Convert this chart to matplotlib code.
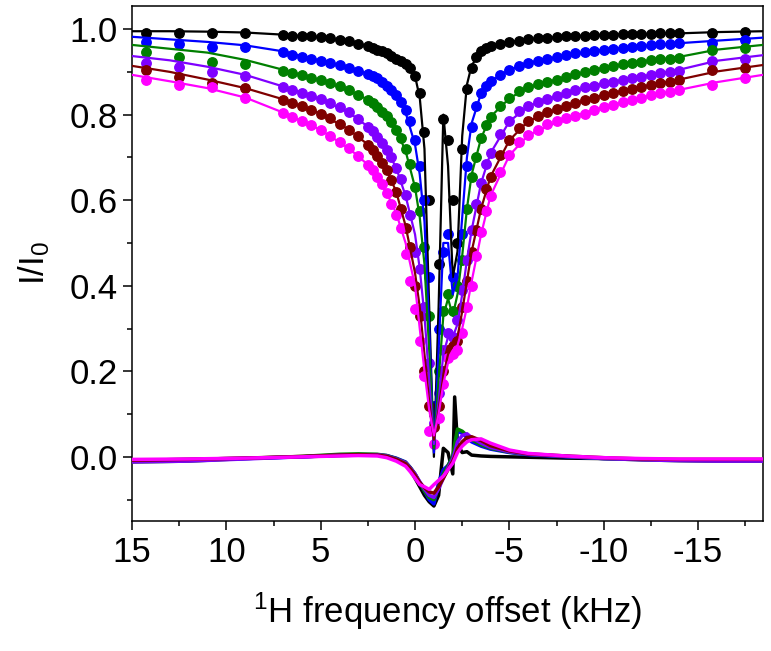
import matplotlib
matplotlib.use("Agg")
import matplotlib.pyplot as plt
from matplotlib.ticker import MultipleLocator

plt.rcParams['font.family'] = ['Liberation Sans', 'DejaVu Sans']
plt.rcParams['mathtext.default'] = 'regular'

# frequency offsets (kHz) of the measured points
x_data = [14.25, 12.5, 10.75, 9.0,
          7.0, 6.5, 6.0, 5.5, 5.0, 4.5, 4.0, 3.5, 3.0, 2.5,
          2.25, 2.0, 1.75, 1.5, 1.25, 1.0, 0.75, 0.5, 0.25, 0.0,
          -0.25, -0.5, -0.75, -1.0, -1.25, -1.5, -1.75, -2.0, -2.25, -2.5,
          -2.75, -3.0, -3.25, -3.5, -3.75,
          -4.0, -4.5, -5.0, -5.5, -6.0, -6.5, -7.0, -7.5, -8.0, -8.5, -9.0,
          -9.5, -10.0, -10.5, -11.0, -11.5, -12.0, -12.5, -13.0, -13.5, -14.0,
          -15.75, -17.5]

# measured I/I0 for each series
y_black = [0.992, 0.992, 0.991, 0.990,
           0.986, 0.985, 0.984, 0.983, 0.981, 0.978, 0.975, 0.971, 0.966, 0.960,
           0.956, 0.952, 0.948, 0.943, 0.937, 0.930, 0.925, 0.918, 0.910, 0.890,
           0.850, 0.760, 0.600, 0.100, 0.450, 0.790, 0.740, 0.600, 0.500, 0.720,
           0.860, 0.910, 0.935, 0.948, 0.955,
           0.960, 0.965, 0.970, 0.973, 0.976, 0.978, 0.980, 0.982, 0.983, 0.984, 0.985,
           0.986, 0.987, 0.987, 0.988, 0.988, 0.989, 0.989, 0.990, 0.990, 0.990,
           0.992, 0.993]
y_blue = [0.970, 0.965, 0.959, 0.958,
          0.946, 0.940, 0.935, 0.930, 0.926, 0.921, 0.916, 0.910, 0.903, 0.895,
          0.890, 0.885, 0.877, 0.868, 0.857, 0.845, 0.830, 0.810, 0.785, 0.740,
          0.680, 0.600, 0.420, 0.120, 0.300, 0.480, 0.520, 0.420, 0.400, 0.520,
          0.680, 0.770, 0.820, 0.850, 0.868,
          0.878, 0.892, 0.905, 0.914, 0.921, 0.926, 0.931, 0.935, 0.939, 0.943, 0.946,
          0.949, 0.952, 0.954, 0.956, 0.958, 0.960, 0.962, 0.964, 0.966, 0.967,
          0.968, 0.974]
y_green = [0.947, 0.935, 0.924, 0.918,
           0.902, 0.897, 0.892, 0.886, 0.880, 0.874, 0.866, 0.857, 0.847, 0.835,
           0.828, 0.818, 0.807, 0.796, 0.782, 0.765, 0.745, 0.720, 0.685, 0.630,
           0.575, 0.490, 0.330, 0.100, 0.200, 0.340, 0.380, 0.340, 0.400, 0.460,
           0.580, 0.655, 0.700, 0.745, 0.775,
           0.795, 0.820, 0.838, 0.855, 0.864, 0.871, 0.877, 0.882, 0.888, 0.894, 0.900,
           0.905, 0.910, 0.914, 0.918, 0.921, 0.924, 0.927, 0.929, 0.931, 0.933,
           0.950, 0.955]
y_purple = [0.920, 0.912, 0.900, 0.890,
            0.864, 0.858, 0.851, 0.844, 0.836, 0.827, 0.817, 0.805, 0.790, 0.772,
            0.761, 0.748, 0.733, 0.718, 0.700, 0.676, 0.650, 0.612, 0.566, 0.480,
            0.440, 0.350, 0.220, 0.080, 0.150, 0.250, 0.290, 0.280, 0.320, 0.390,
            0.460, 0.530, 0.590, 0.640, 0.685,
            0.710, 0.755, 0.784, 0.808, 0.820, 0.829, 0.837, 0.844, 0.851, 0.857, 0.865,
            0.868, 0.873, 0.877, 0.881, 0.885, 0.889, 0.893, 0.897, 0.900, 0.903,
            0.925, 0.929]
y_maroon = [0.904, 0.889, 0.873, 0.862,
            0.835, 0.828, 0.820, 0.811, 0.802, 0.791, 0.779, 0.765, 0.750, 0.730,
            0.717, 0.703, 0.688, 0.671, 0.648, 0.618, 0.580, 0.535, 0.490, 0.400,
            0.330, 0.200, 0.120, 0.070, 0.120, 0.200, 0.250, 0.260, 0.270, 0.350,
            0.410, 0.480, 0.530, 0.580, 0.625,
            0.655, 0.705, 0.740, 0.768, 0.785, 0.797, 0.806, 0.814, 0.820, 0.827, 0.834,
            0.840, 0.846, 0.851, 0.856, 0.861, 0.865, 0.869, 0.873, 0.877, 0.881,
            0.904, 0.910]
y_magenta = [0.881, 0.869, 0.864, 0.838,
             0.803, 0.794, 0.785, 0.775, 0.764, 0.751, 0.737, 0.721, 0.704, 0.683,
             0.670, 0.655, 0.637, 0.617, 0.592, 0.565, 0.535, 0.475, 0.410, 0.345,
             0.270, 0.190, 0.060, 0.030, 0.090, 0.170, 0.230, 0.240, 0.250, 0.290,
             0.350, 0.400, 0.470, 0.525, 0.575,
             0.610, 0.665, 0.705, 0.735, 0.752, 0.765, 0.777, 0.786, 0.792, 0.797, 0.802,
             0.810, 0.817, 0.823, 0.829, 0.834, 0.840, 0.845, 0.850, 0.854, 0.858,
             0.870, 0.885]

# fitted curves
x_fit = [15.0, 13.0, 11.0, 9.0, 7.0, 5.0, 3.5, 2.5, 1.5, 1.0, 0.5, 0.0,
         -0.25, -0.5, -0.75, -1.0, -1.25, -1.5, -1.75, -2.0, -2.25, -2.5,
         -2.75, -3.0, -3.5, -4.0, -5.0, -6.0, -8.0, -10.0, -12.0, -14.0,
         -16.0, -18.44]
fit_black = [0.995, 0.995, 0.994, 0.992, 0.987, 0.981, 0.971, 0.960, 0.943, 0.930, 0.915, 0.890,
             0.840, 0.720, 0.350, 0.000, 0.350, 0.800, 0.680, 0.420, 0.480, 0.750,
             0.870, 0.915, 0.948, 0.960, 0.970, 0.976, 0.983, 0.987, 0.989, 0.990,
             0.993, 0.995]
fit_blue = [0.982, 0.976, 0.970, 0.962, 0.948, 0.926, 0.910, 0.895, 0.868, 0.845, 0.805, 0.730,
            0.660, 0.550, 0.300, 0.010, 0.250, 0.500, 0.500, 0.380, 0.420, 0.560,
            0.700, 0.780, 0.850, 0.878, 0.905, 0.921, 0.939, 0.952, 0.960, 0.967,
            0.973, 0.980]
fit_green = [0.963, 0.954, 0.945, 0.928, 0.905, 0.880, 0.857, 0.835, 0.796, 0.765, 0.715, 0.630,
             0.560, 0.450, 0.250, 0.020, 0.180, 0.330, 0.370, 0.330, 0.380, 0.470,
             0.580, 0.660, 0.745, 0.795, 0.838, 0.864, 0.888, 0.910, 0.924, 0.935,
             0.952, 0.963]
fit_purple = [0.937, 0.927, 0.912, 0.893, 0.866, 0.836, 0.805, 0.772, 0.718, 0.676, 0.610, 0.520,
              0.440, 0.330, 0.180, 0.030, 0.130, 0.240, 0.280, 0.280, 0.310, 0.380,
              0.460, 0.530, 0.640, 0.710, 0.784, 0.820, 0.851, 0.873, 0.889, 0.905,
              0.926, 0.939]
fit_maroon = [0.914, 0.900, 0.882, 0.862, 0.836, 0.802, 0.765, 0.730, 0.671, 0.620, 0.540, 0.430,
              0.350, 0.240, 0.130, 0.040, 0.110, 0.190, 0.240, 0.260, 0.280, 0.340,
              0.410, 0.480, 0.580, 0.655, 0.740, 0.785, 0.820, 0.846, 0.865, 0.882,
              0.901, 0.916]
fit_magenta = [0.893, 0.878, 0.862, 0.840, 0.805, 0.764, 0.721, 0.683, 0.617, 0.570, 0.500, 0.400,
               0.300, 0.200, 0.110, 0.050, 0.100, 0.170, 0.220, 0.240, 0.260, 0.300,
               0.350, 0.410, 0.520, 0.610, 0.705, 0.752, 0.792, 0.817, 0.840, 0.858,
               0.876, 0.893]

# residuals (data - fit)
x_res = [15.0, 12.0, 9.0, 6.0, 4.0, 3.0, 2.0, 1.5, 1.0, 0.5, 0.25, 0.0,
         -0.25, -0.5, -0.75, -1.0, -1.25, -1.5, -1.75, -2.0, -2.1, -2.25,
         -2.5, -2.75, -3.0, -3.5, -4.0, -5.0, -6.0, -8.0, -10.0, -12.0,
         -14.0, -16.0, -18.44]
res_black = [-0.008, -0.006, -0.003, 0.0, 0.003, 0.004, 0.004, 0.002, -0.005, -0.015, -0.03, -0.05,
             -0.07, -0.09, -0.105, -0.115, -0.09, 0.02, 0.01, -0.04, 0.14, 0.03,
             0.01, 0.012, 0.004, 0.002, 0.001, 0.0, -0.001, -0.003, -0.004, -0.006,
             -0.007, -0.007, -0.008]
res_blue = [-0.01, -0.008, -0.004, 0.0, 0.004, 0.005, 0.005, 0.003, -0.003, -0.012, -0.025, -0.04,
            -0.06, -0.08, -0.10, -0.11, -0.06, -0.03, -0.02, 0.0, 0.02, 0.06,
            0.055, 0.045, 0.035, 0.025, 0.018, 0.01, 0.005, 0.0, -0.004, -0.006,
            -0.008, -0.009, -0.01]
res_green = [-0.012, -0.01, -0.004, 0.001, 0.006, 0.007, 0.006, 0.003, -0.004, -0.013, -0.025, -0.04,
             -0.06, -0.08, -0.095, -0.10, -0.07, -0.04, -0.02, 0.0, 0.03, 0.065,
             0.06, 0.05, 0.04, 0.028, 0.02, 0.011, 0.006, 0.001, -0.004, -0.007,
             -0.009, -0.01, -0.01]
res_purple = [-0.012, -0.01, -0.005, 0.0, 0.004, 0.005, 0.005, 0.002, -0.005, -0.014, -0.026, -0.04,
              -0.058, -0.075, -0.09, -0.095, -0.075, -0.05, -0.025, -0.005, 0.01, 0.035,
              0.05, 0.054, 0.045, 0.032, 0.022, 0.012, 0.006, 0.001, -0.004, -0.007,
              -0.009, -0.01, -0.01]
res_maroon = [-0.008, -0.006, -0.003, 0.001, 0.004, 0.005, 0.004, 0.001, -0.006, -0.016, -0.028, -0.043,
              -0.06, -0.072, -0.082, -0.085, -0.07, -0.05, -0.03, -0.01, 0.0, 0.02,
              0.035, 0.045, 0.047, 0.038, 0.026, 0.014, 0.007, 0.002, -0.002, -0.005,
              -0.006, -0.006, -0.006]
res_magenta = [-0.006, -0.005, -0.003, 0.0, 0.002, 0.003, 0.002, -0.002, -0.01, -0.022, -0.035, -0.05,
               -0.065, -0.07, -0.076, -0.065, -0.055, -0.045, -0.03, -0.015, -0.005, 0.01,
               0.025, 0.035, 0.04, 0.042, 0.032, 0.016, 0.008, 0.002, -0.002, -0.004,
               -0.005, -0.005, -0.005]

colors = ['#000000', '#0000ff', '#007f00', '#7f00ff', '#7f0000', '#ff00ff']
datos = [y_black, y_blue, y_green, y_purple, y_maroon, y_magenta]
ajustes = [fit_black, fit_blue, fit_green, fit_purple, fit_maroon, fit_magenta]
residuos = [res_black, res_blue, res_green, res_purple, res_maroon, res_magenta]

fig = plt.figure(figsize=(7.71, 6.51), dpi=100)
ax = fig.add_axes([0.1712, 0.1997, 0.8184, 0.7911])

# puntos medidos
for y, c in zip(datos, colors):
    ax.plot(x_data, y, 'o', color=c, ms=6.8, mec=c, zorder=2)

# curvas de ajuste
for y, c in zip(ajustes, colors):
    ax.plot(x_fit, y, '-', color=c, lw=1.6, zorder=3)

# residuos
for y, c in zip(residuos, colors):
    ax.plot(x_res, y, '-', color=c, lw=2.5, zorder=4)

ax.set_xlim(15, -18.44)
ax.set_ylim(-0.15, 1.054)
ax.xaxis.set_minor_locator(MultipleLocator(2.5))
ax.yaxis.set_major_locator(MultipleLocator(0.2))
ax.yaxis.set_minor_locator(MultipleLocator(0.1))
ax.set_xticks([15, 10, 5, 0, -5, -10, -15])
ax.set_xticklabels(['15', '10', '5', '0', '-5', '-10', '-15'])

ax.tick_params(which='major', direction='out', length=6.5, width=1.1, labelsize=25, pad=4)
ax.tick_params(which='minor', direction='out', length=3.8, width=1.1)
for s in ax.spines.values():
    s.set_linewidth(1.1)

ax.set_xlabel('$^{1}$H frequency offset (kHz)', fontsize=25, labelpad=16)
ax.set_ylabel('I/I$_{0}$', fontsize=25, labelpad=12)

fig.savefig('out.png', dpi=100)
